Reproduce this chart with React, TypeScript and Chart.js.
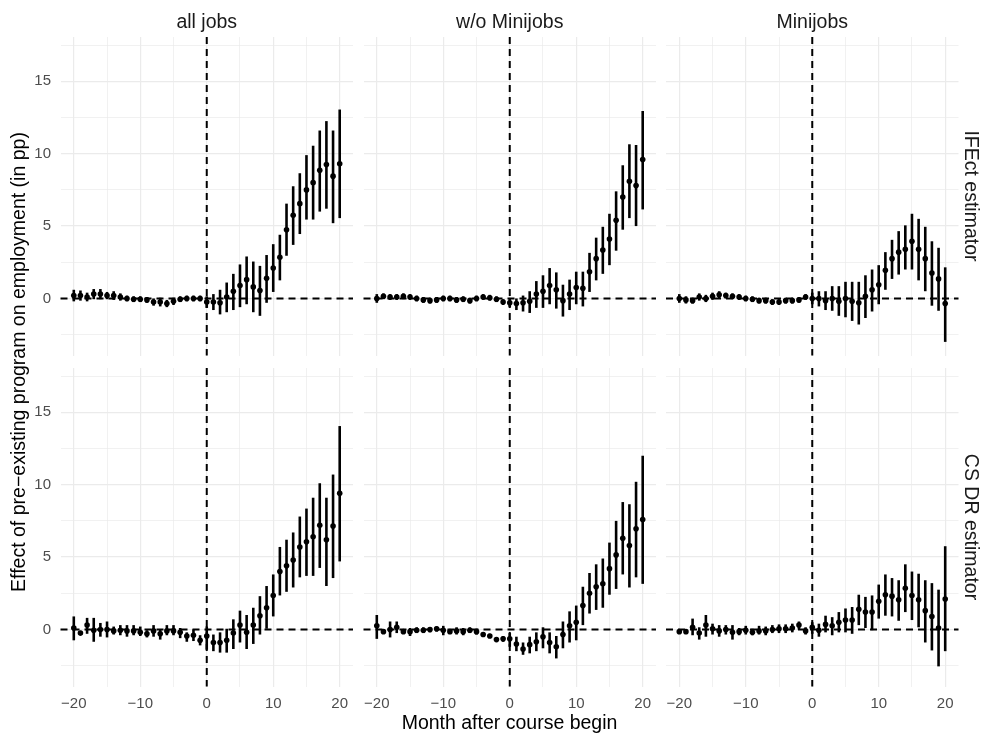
import React, { useEffect, useRef } from "react";
import { Chart, registerables } from "chart.js";

Chart.register(...registerables);

// ---- data ----
const months = [
  -20, -19, -18, -17, -16, -15, -14, -13, -12, -11, -10, -9, -8, -7, -6, -5, -4, -3, -2, -1,
  0, 1, 2, 3, 4, 5, 6, 7, 8, 9, 10, 11, 12, 13, 14, 15, 16, 17, 18, 19, 20,
];

const columns = ["all jobs", "w/o Minijobs", "Minijobs"];
const rows = ["IFEct estimator", "CS DR estimator"];
const xTicks = [-20, -15, -10, -5, 0, 5, 10, 15, 20];
const yTicks = [-2.5, 0, 2.5, 5, 7.5, 10, 12.5, 15, 17.5];

// IFEct, all jobs
const ifeAllEst = [0.2, 0.2, 0.1, 0.3, 0.3, 0.2, 0.2, 0.1, 0.0, -0.05, -0.05, -0.1, -0.25, -0.25, -0.35, -0.2, -0.05, 0.0, 0.0, 0.0,
  -0.25, -0.25, -0.3, 0.1, 0.5, 0.9, 1.3, 0.8, 0.55, 1.4, 2.1, 2.85, 4.75, 5.75, 6.55, 7.5, 8.0, 8.85, 9.25, 8.45, 9.3];
const ifeAllLo = [-0.2, -0.15, -0.2, -0.05, -0.05, -0.05, -0.1, -0.15, -0.2, -0.25, -0.25, -0.3, -0.5, -0.55, -0.6, -0.45, -0.25, -0.2, -0.2, -0.2,
  -0.65, -0.8, -1.1, -0.95, -0.8, -0.6, -0.4, -0.95, -1.2, -0.3, 0.45, 1.25, 2.95, 3.7, 4.45, 5.45, 5.45, 6.0, 6.2, 5.2, 5.55];
const ifeAllHi = [0.6, 0.55, 0.4, 0.65, 0.65, 0.45, 0.5, 0.35, 0.2, 0.15, 0.15, 0.1, 0.0, 0.05, -0.1, 0.05, 0.15, 0.2, 0.2, 0.2,
  0.15, 0.3, 0.6, 1.1, 1.7, 2.35, 2.9, 2.55, 2.25, 3.0, 3.75, 4.4, 6.55, 7.75, 8.65, 9.9, 10.55, 11.6, 12.25, 11.6, 13.05];

// IFEct, w/o Minijobs
const ifeWoEst = [0.0, 0.15, 0.1, 0.1, 0.15, 0.1, 0.0, -0.1, -0.15, -0.1, 0.0, 0.0, -0.1, -0.05, -0.15, 0.0, 0.1, 0.05, -0.05, -0.25,
  -0.3, -0.35, -0.3, -0.2, 0.3, 0.5, 0.9, 0.6, -0.15, 0.3, 0.75, 0.7, 1.85, 2.75, 3.35, 4.1, 5.4, 7.0, 8.1, 7.8, 9.6];
const ifeWoLo = [-0.3, -0.05, -0.1, -0.1, -0.05, -0.1, -0.2, -0.3, -0.35, -0.3, -0.2, -0.2, -0.3, -0.25, -0.35, -0.2, -0.1, -0.15, -0.25, -0.45,
  -0.6, -0.8, -0.9, -1.0, -0.65, -0.65, -0.4, -0.7, -1.25, -0.8, -0.4, -0.55, 0.45, 1.25, 1.7, 2.3, 3.3, 4.75, 5.55, 5.0, 6.15];
const ifeWoHi = [0.3, 0.35, 0.3, 0.3, 0.35, 0.3, 0.2, 0.1, 0.05, 0.1, 0.2, 0.2, 0.1, 0.15, 0.05, 0.2, 0.3, 0.25, 0.15, -0.05,
  0.0, 0.0, 0.2, 0.5, 1.2, 1.6, 2.1, 1.8, 0.95, 1.3, 1.85, 1.85, 3.15, 4.2, 4.95, 5.85, 7.4, 9.2, 10.65, 10.6, 12.95];

// IFEct, Minijobs
const ifeMiniEst = [0.0, -0.1, -0.15, 0.1, 0.0, 0.15, 0.25, 0.2, 0.15, 0.1, 0.0, -0.05, -0.15, -0.15, -0.25, -0.25, -0.15, -0.15, -0.1, 0.1,
  0.0, 0.0, -0.15, 0.0, -0.2, 0.0, -0.2, -0.3, 0.15, 0.6, 0.95, 1.95, 2.75, 3.2, 3.4, 3.95, 3.4, 2.75, 1.75, 1.35, -0.35];
const ifeMiniLo = [-0.3, -0.35, -0.35, -0.15, -0.25, -0.1, 0.0, 0.0, -0.05, -0.1, -0.2, -0.25, -0.35, -0.35, -0.45, -0.45, -0.35, -0.35, -0.3, -0.1,
  -0.4, -0.55, -0.8, -0.85, -1.2, -1.3, -1.55, -1.8, -1.35, -0.9, -0.4, 0.6, 1.35, 1.65, 2.0, 2.0, 1.25, 0.5, -0.5, -0.85, -3.0];
const ifeMiniHi = [0.3, 0.15, 0.05, 0.35, 0.25, 0.4, 0.5, 0.4, 0.35, 0.3, 0.2, 0.15, 0.05, 0.05, -0.05, -0.05, 0.05, 0.05, 0.1, 0.3,
  0.4, 0.5, 0.5, 0.85, 0.85, 1.15, 1.15, 1.15, 1.6, 2.0, 2.3, 3.2, 4.05, 4.65, 5.05, 5.85, 5.5, 4.95, 3.95, 3.5, 2.15];

// CS DR, all jobs
const csAllEst = [0.1, -0.25, 0.3, -0.05, 0.0, 0.0, -0.1, -0.05, -0.1, -0.1, -0.2, -0.3, -0.1, -0.3, -0.1, -0.1, -0.2, -0.45, -0.4, -0.75,
  -0.45, -0.9, -0.9, -0.75, -0.25, 0.3, -0.2, 0.3, 0.95, 1.5, 2.35, 4.0, 4.4, 4.8, 5.7, 6.05, 6.4, 7.2, 6.2, 7.15, 9.4];
const csAllLo = [-0.75, -0.4, -0.3, -0.85, -0.5, -0.55, -0.35, -0.4, -0.5, -0.4, -0.45, -0.55, -0.5, -0.7, -0.4, -0.4, -0.6, -0.85, -0.8, -1.1,
  -1.4, -1.5, -1.6, -1.6, -1.35, -0.9, -1.35, -1.0, -0.35, 0.05, 0.9, 2.35, 2.6, 2.9, 3.6, 3.7, 3.7, 4.25, 3.0, 3.55, 4.7];
const csAllHi = [0.9, -0.1, 0.8, 0.8, 0.45, 0.55, 0.2, 0.3, 0.3, 0.3, 0.2, -0.05, 0.3, 0.0, 0.3, 0.3, 0.1, -0.2, 0.0, -0.4,
  0.2, -0.35, -0.2, 0.05, 0.7, 1.3, 1.0, 1.5, 2.3, 3.0, 3.8, 5.7, 6.2, 6.7, 7.8, 8.35, 9.1, 10.1, 9.1, 10.7, 14.05];

// CS DR, w/o Minijobs
const csWoEst = [0.25, -0.15, 0.0, 0.15, -0.15, -0.15, -0.05, -0.05, 0.0, 0.05, -0.05, -0.15, -0.1, -0.15, -0.05, -0.15, -0.35, -0.45, -0.7, -0.65,
  -0.65, -1.0, -1.35, -1.05, -0.85, -0.5, -0.9, -1.2, -0.35, 0.25, 0.5, 1.65, 2.5, 2.95, 3.15, 4.2, 5.15, 6.3, 5.8, 6.95, 7.6];
const csWoLo = [-0.65, -0.3, -0.55, -0.25, -0.3, -0.45, -0.25, -0.25, -0.2, -0.15, -0.4, -0.3, -0.35, -0.4, -0.25, -0.35, -0.5, -0.6, -0.85, -0.85,
  -1.2, -1.5, -1.75, -1.65, -1.5, -1.3, -1.65, -2.0, -1.3, -0.9, -0.75, 0.3, 1.1, 1.35, 1.5, 2.4, 2.8, 3.8, 2.9, 3.6, 3.15];
const csWoHi = [1.0, 0.0, 0.55, 0.55, 0.0, 0.1, 0.15, 0.15, 0.15, 0.2, 0.25, 0.0, 0.15, 0.1, 0.15, 0.05, -0.2, -0.3, -0.55, -0.45,
  -0.25, -0.5, -0.9, -0.5, -0.2, 0.15, -0.2, -0.45, 0.55, 1.25, 1.65, 2.95, 3.9, 4.5, 4.9, 6.0, 7.5, 8.8, 8.65, 10.2, 12.0];

// CS DR, Minijobs
const csMiniEst = [-0.15, -0.15, 0.15, -0.25, 0.3, 0.05, -0.1, 0.0, -0.2, -0.15, -0.05, -0.2, -0.1, -0.1, 0.0, 0.05, 0.05, 0.1, 0.3, -0.1,
  0.15, -0.05, 0.35, 0.25, 0.5, 0.65, 0.65, 1.4, 1.2, 1.2, 1.95, 2.4, 2.3, 2.05, 2.85, 2.35, 2.05, 1.3, 0.9, 0.1, 2.1];
const csMiniLo = [-0.25, -0.25, -0.4, -0.7, -0.5, -0.35, -0.5, -0.35, -0.7, -0.4, -0.35, -0.4, -0.35, -0.4, -0.25, -0.25, -0.25, -0.2, 0.0, -0.35,
  -0.3, -0.5, -0.2, -0.4, -0.2, -0.2, -0.3, 0.3, 0.1, -0.05, 0.75, 0.95, 0.9, 0.6, 1.2, 0.65, 0.15, -0.9, -1.45, -2.55, -1.5];
const csMiniHi = [-0.05, -0.05, 0.75, 0.15, 1.0, 0.4, 0.3, 0.3, 0.3, 0.1, 0.25, 0.05, 0.25, 0.2, 0.3, 0.35, 0.35, 0.4, 0.55, 0.15,
  0.5, 0.4, 0.95, 0.85, 1.2, 1.45, 1.55, 2.4, 2.25, 2.35, 3.1, 3.8, 3.55, 3.4, 4.5, 4.0, 3.85, 3.4, 3.2, 2.75, 5.75];

const panels = [
  { row: 0, col: 0, est: ifeAllEst, lo: ifeAllLo, hi: ifeAllHi },
  { row: 0, col: 1, est: ifeWoEst, lo: ifeWoLo, hi: ifeWoHi },
  { row: 0, col: 2, est: ifeMiniEst, lo: ifeMiniLo, hi: ifeMiniHi },
  { row: 1, col: 0, est: csAllEst, lo: csAllLo, hi: csAllHi },
  { row: 1, col: 1, est: csWoEst, lo: csWoLo, hi: csWoHi },
  { row: 1, col: 2, est: csMiniEst, lo: csMiniLo, hi: csMiniHi },
];

// ---- layout ----
const W = 984;
const H = 734;
const colLeft = [60.5, 363.5, 666];
const panelW = 292.5;
const rowTop = [37, 368];
const panelH = 318.5;
const X_MIN = -22;
const X_MAX = 22;
const Y_MIN = -3.94;
const Y_MAX = 18.06;
const Y_AXIS_W = 60;
const X_AXIS_H = 40;

const FONT = "'Liberation Sans', Arial, Helvetica, sans-serif";
const TITLE_SIZE = 19.5;

const fmt = (v: number) => (v < 0 ? "\u2212" + Math.abs(v) : String(v));

const refLinesAndBars = {
  id: "refLinesAndBars",
  beforeDatasetsDraw(chart: any, _args: any, opts: any) {
    const { ctx, scales } = chart;
    const xs = scales.x;
    const ys = scales.y;
    const area = chart.chartArea;
    ctx.save();
    ctx.strokeStyle = "#000";
    ctx.lineWidth = 2;
    ctx.setLineDash([7, 5]);
    const y0 = ys.getPixelForValue(0);
    ctx.beginPath();
    ctx.moveTo(area.left, y0);
    ctx.lineTo(area.right, y0);
    ctx.stroke();
    const x0 = xs.getPixelForValue(0);
    ctx.beginPath();
    ctx.moveTo(x0, area.top);
    ctx.lineTo(x0, area.bottom);
    ctx.stroke();
    ctx.setLineDash([]);
    ctx.lineWidth = 2.6;
    ctx.lineCap = "butt";
    const lo: number[] = opts.lo;
    const hi: number[] = opts.hi;
    const ms: number[] = opts.months;
    for (let i = 0; i < ms.length; i++) {
      const x = xs.getPixelForValue(ms[i]);
      ctx.beginPath();
      ctx.moveTo(x, ys.getPixelForValue(lo[i]));
      ctx.lineTo(x, ys.getPixelForValue(hi[i]));
      ctx.stroke();
    }
    ctx.restore();
  },
};

function Panel({ p }: { p: any }) {
  const ref = useRef<HTMLCanvasElement | null>(null);
  useEffect(() => {
    if (!ref.current) return;
    const left = colLeft[p.col];
    const top = rowTop[p.row];
    const showY = p.col === 0;
    const showX = p.row === 1;
    const yW = showY ? Y_AXIS_W : 0;
    const xH = showX ? X_AXIS_H : 0;
    const chart = new Chart(ref.current, {
      type: "scatter",
      data: {
        datasets: [
          {
            data: months.map((m, i) => ({ x: m, y: p.est[i] })),
            pointRadius: 2.8,
            pointBackgroundColor: "#000",
            pointBorderColor: "#000",
            pointBorderWidth: 0,
            showLine: false,
          },
        ],
      },
      options: {
        animation: false,
        responsive: false,
        maintainAspectRatio: false,
        devicePixelRatio: 1,
        events: [],
        layout: {
          padding: {
            left: left - yW,
            top: top,
            right: W - left - panelW,
            bottom: H - top - panelH - xH,
          },
        },
        plugins: {
          legend: { display: false },
          tooltip: { enabled: false },
          title: { display: false },
          refLinesAndBars: { lo: p.lo, hi: p.hi, months },
        } as any,
        scales: {
          x: {
            type: "linear",
            position: "bottom",
            min: X_MIN,
            max: X_MAX,
            afterBuildTicks: (s: any) => {
              s.ticks = xTicks.map((v) => ({ value: v }));
            },
            afterFit: (s: any) => {
              s.height = xH;
            },
            border: { display: false },
            grid: {
              color: "#ebebeb",
              lineWidth: (c: any) => (c.tick && c.tick.value % 10 === 0 ? 1.2 : 0.7),
              drawTicks: false,
            },
            ticks: {
              display: showX,
              autoSkip: false,
              maxRotation: 0,
              padding: 8,
              color: "#4d4d4d",
              font: { family: FONT, size: 15 },
              callback: (v: any) => (Number(v) % 10 === 0 ? fmt(Number(v)) : ""),
            },
          },
          y: {
            type: "linear",
            position: "left",
            min: Y_MIN,
            max: Y_MAX,
            afterBuildTicks: (s: any) => {
              s.ticks = yTicks.map((v) => ({ value: v }));
            },
            afterFit: (s: any) => {
              s.width = yW;
            },
            border: { display: false },
            grid: {
              color: "#ebebeb",
              lineWidth: (c: any) => (c.tick && c.tick.value % 5 === 0 ? 1.2 : 0.7),
              drawTicks: false,
            },
            ticks: {
              display: showY,
              autoSkip: false,
              padding: 9.5,
              color: "#4d4d4d",
              font: { family: FONT, size: 15 },
              callback: (v: any) => (Number(v) % 5 === 0 ? fmt(Number(v)) : ""),
            },
          },
        },
      },
      plugins: [refLinesAndBars],
    } as any);
    return () => chart.destroy();
  }, [p]);
  return (
    <canvas
      ref={ref}
      width={W}
      height={H}
      style={{ position: "absolute", left: 0, top: 0, width: W, height: H }}
    />
  );
}

export default function App() {
  const plotCenterX = (colLeft[0] + colLeft[2] + panelW) / 2;
  const plotCenterY = (rowTop[0] + rowTop[1] + panelH) / 2;
  return (
    <div
      style={{
        position: "absolute",
        left: 0,
        top: 0,
        width: W,
        height: H,
        background: "#fff",
        fontFamily: FONT,
        overflow: "hidden",
      }}
    >
      {panels.map((p, i) => (
        <Panel key={i} p={p} />
      ))}
      {columns.map((c, i) => (
        <div
          key={c}
          style={{
            position: "absolute",
            left: colLeft[i],
            width: panelW,
            top: 10.5,
            height: 20,
            textAlign: "center",
            fontSize: TITLE_SIZE,
            color: "#1a1a1a",
            lineHeight: "20px",
            whiteSpace: "nowrap",
          }}
        >
          {c}
        </div>
      ))}
      {rows.map((r, i) => (
        <div
          key={r}
          style={{
            position: "absolute",
            left: 972.5 - panelH / 2,
            top: rowTop[i] + panelH / 2 - 10,
            width: panelH,
            height: 20,
            lineHeight: "20px",
            textAlign: "center",
            fontSize: TITLE_SIZE,
            color: "#1a1a1a",
            transform: "rotate(90deg)",
            transformOrigin: "50% 50%",
            whiteSpace: "nowrap",
          }}
        >
          {r}
        </div>
      ))}
      <div
        style={{
          position: "absolute",
          left: 18 - 300,
          top: plotCenterY - 10,
          width: 600,
          height: 20,
          lineHeight: "20px",
          textAlign: "center",
          fontSize: TITLE_SIZE,
          color: "#000",
          transform: "rotate(-90deg)",
          transformOrigin: "50% 50%",
          whiteSpace: "nowrap",
        }}
      >
        Effect of pre{"\u2212"}existing program on employment (in pp)
      </div>
      <div
        style={{
          position: "absolute",
          left: plotCenterX - 300,
          width: 600,
          top: 712,
          height: 20,
          lineHeight: "20px",
          textAlign: "center",
          fontSize: TITLE_SIZE,
          color: "#000",
          whiteSpace: "nowrap",
        }}
      >
        Month after course begin
      </div>
    </div>
  );
}
